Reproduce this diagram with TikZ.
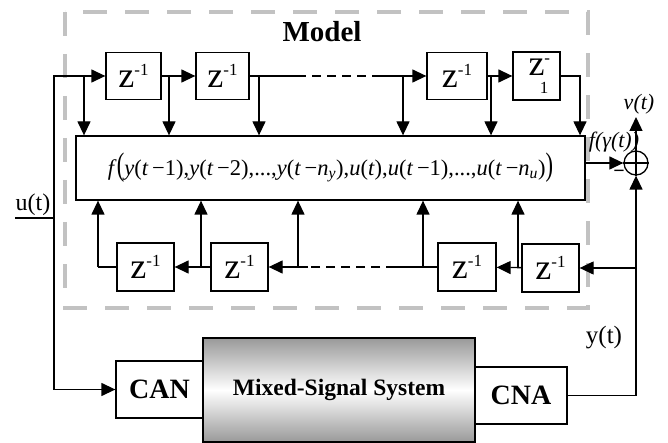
\documentclass[tikz,border=0pt]{standalone}
\usepackage{fontspec}
\setmainfont{Liberation Serif}
\usepackage{tikz}
\usetikzlibrary{positioning, arrows.meta}

\newcommand{\vi}[1]{\textit{#1}}
\newcommand{\zinv}{z\raisebox{12pt}{\fontsize{17}{17}\selectfont -1}}
\newcommand{\bigpar}[1]{\scalebox{1}[1.45]{#1}}

\begin{document}
\begin{tikzpicture}[x=1pt, y=-1pt, line width=1.3pt, >={Triangle[length=14pt,width=13pt]}]
\tikzstyle{delay}=[draw, fill=white, inner sep=0pt, minimum height=47pt, font=\fontsize{36}{36}\selectfont]
\tikzstyle{block}=[draw, fill=white, inner sep=0pt, font=\fontsize{28}{28}\selectfont\bfseries]
\tikzstyle{lbl}=[inner sep=0pt, font=\fontsize{24}{24}\selectfont]
\useasboundingbox (0,0) rectangle (668,443);

% model frame
\draw[black!24, line width=4pt, dash pattern=on 24pt off 18pt] (65,12) rectangle (588,308);
\node[font=\fontsize{29}{29}\selectfont\bfseries] (model) at (322,32) {Model};

% regressor block
\node[draw, fill=white, minimum width=509pt, minimum height=64pt, font=\fontsize{22.5}{22.5}\selectfont] (fbox) at (330.5,168)
  {\raisebox{4pt}{\vi{f}\bigpar{(}\vi{y}(\vi{t}\,−1),\vi{y}(\vi{t}\,−2),...,\vi{y}(\vi{t}\,−\vi{n}\textsubscript{\vi{y}}),\vi{u}(\vi{t}),\vi{u}(\vi{t}\,−1),...,\vi{u}(\vi{t}\,−\vi{n}\textsubscript{\vi{u}})\bigpar{)}}};
\node[circle, draw, minimum size=24pt, inner sep=0pt] (sum) at (636,163) {};
\draw (sum.north) -- (sum.south) (sum.west) -- (sum.east);

% delays, input side
\node[delay, minimum width=55pt] (za) at (133.5,76) {\zinv};
\node[delay, minimum width=53pt] (zb) at (222.5,76) {\zinv};
\node[delay, minimum width=60pt] (zc) at (457,76) {\zinv};
\node[delay, minimum width=47pt, minimum height=48pt] (zd) at (536.5,76)
  {z\rlap{\raisebox{12pt}{\fontsize{17}{17}\selectfont -}}\llap{\raisebox{-18pt}{\fontsize{17}{17}\selectfont 1}\hspace{-4pt}}};

% delays, output side
\node[delay, minimum width=57pt, minimum height=48pt] (wa) at (145.5,267) {\zinv};
\node[delay, minimum width=57pt, minimum height=48pt] (wb) at (239.5,267) {\zinv};
\node[delay, minimum width=58pt, minimum height=48pt] (wc) at (467,267) {\zinv};
\node[delay, minimum width=57pt, minimum height=48pt] (wd) at (550.5,268) {\zinv};

% plant
\node[block, minimum width=87pt, minimum height=57pt] (can) at (159.5,389.5) {CAN};
\node[draw, top color=black!40, bottom color=black!40, middle color=white, minimum width=272pt, minimum height=104pt, font=\fontsize{23.5}{23.5}\selectfont\bfseries] (mss) at (339,390) {Mixed-Signal System};
\node[block, minimum width=92pt, minimum height=57pt] (cna) at (521,395.5) {CNA};

% labels
\node[lbl] (ut) at (33,205) {u(t)};
\node[lbl, font=\fontsize{25}{25}\selectfont] (yt) at (604,338) {y(t)};
\node[lbl, font=\fontsize{22}{22}\selectfont\itshape] (vt) at (639,104) {v(t)};
\node[lbl, font=\fontsize{22}{22}\selectfont\itshape] (fg) at (614,142) {f(γ(t))};
\node[lbl, font=\fontsize{20}{20}\selectfont\bfseries] (minus) at (619,174) {−};

% junctions
\coordinate (uin) at (15,218);
\coordinate (uc) at (54,218);
\coordinate (ta) at (84,76);
\coordinate (tb) at (169,76);
\coordinate (tc) at (259,76);
\coordinate (td) at (297,76);
\coordinate (te) at (381,76);
\coordinate (tf) at (403,76);
\coordinate (tg) at (491,76);
\coordinate (th) at (580,76);
\coordinate (ba) at (98,267);
\coordinate (bb) at (201,267);
\coordinate (bc) at (298,267);
\coordinate (bd) at (308,267);
\coordinate (be) at (395,267);
\coordinate (bf) at (423,267);
\coordinate (bg) at (518,268);
\coordinate (bh) at (636,268);
\coordinate (yc) at (636,395.5);
\coordinate (vout) at (636,117);

% input chain
\draw[->] (uin) -- (uc) |- (za.west);
\draw[->] (uc) |- (can.west);
\draw[->] (za) -- (zb);
\draw (zb) -- (td);
\draw[dash pattern=on 9pt off 6pt] (td) -- (te);
\draw[->] (te) -- (zc);
\draw[->] (zc) -- (zd);
\draw[->] (zd.east) -| (th |- fbox.north);
\foreach \j in {ta,tb,tc,tf,tg}
  \draw[->] (\j) -- (\j |- fbox.north);

% output chain
\draw (cna.east) -- (yc) -- (bh);
\draw[->] (bh) -- (wd);
\draw[->] (bh) -- (sum);
\draw[->] (wd) -- (wc);
\draw (wc) -- (be);
\draw[dash pattern=on 9pt off 6pt] (be) -- (bd);
\draw[->] (bd) -- (wb);
\draw[->] (wb) -- (wa);
\draw (wa.west) -- (ba);
\foreach \j in {ba,bb,bc,bf,bg}
  \draw[->] (\j) -- (\j |- fbox.south);

% error
\draw[->] (fbox.east |- sum) -- (sum);
\draw[->] (sum) -- (vout);
\end{tikzpicture}
\end{document}
